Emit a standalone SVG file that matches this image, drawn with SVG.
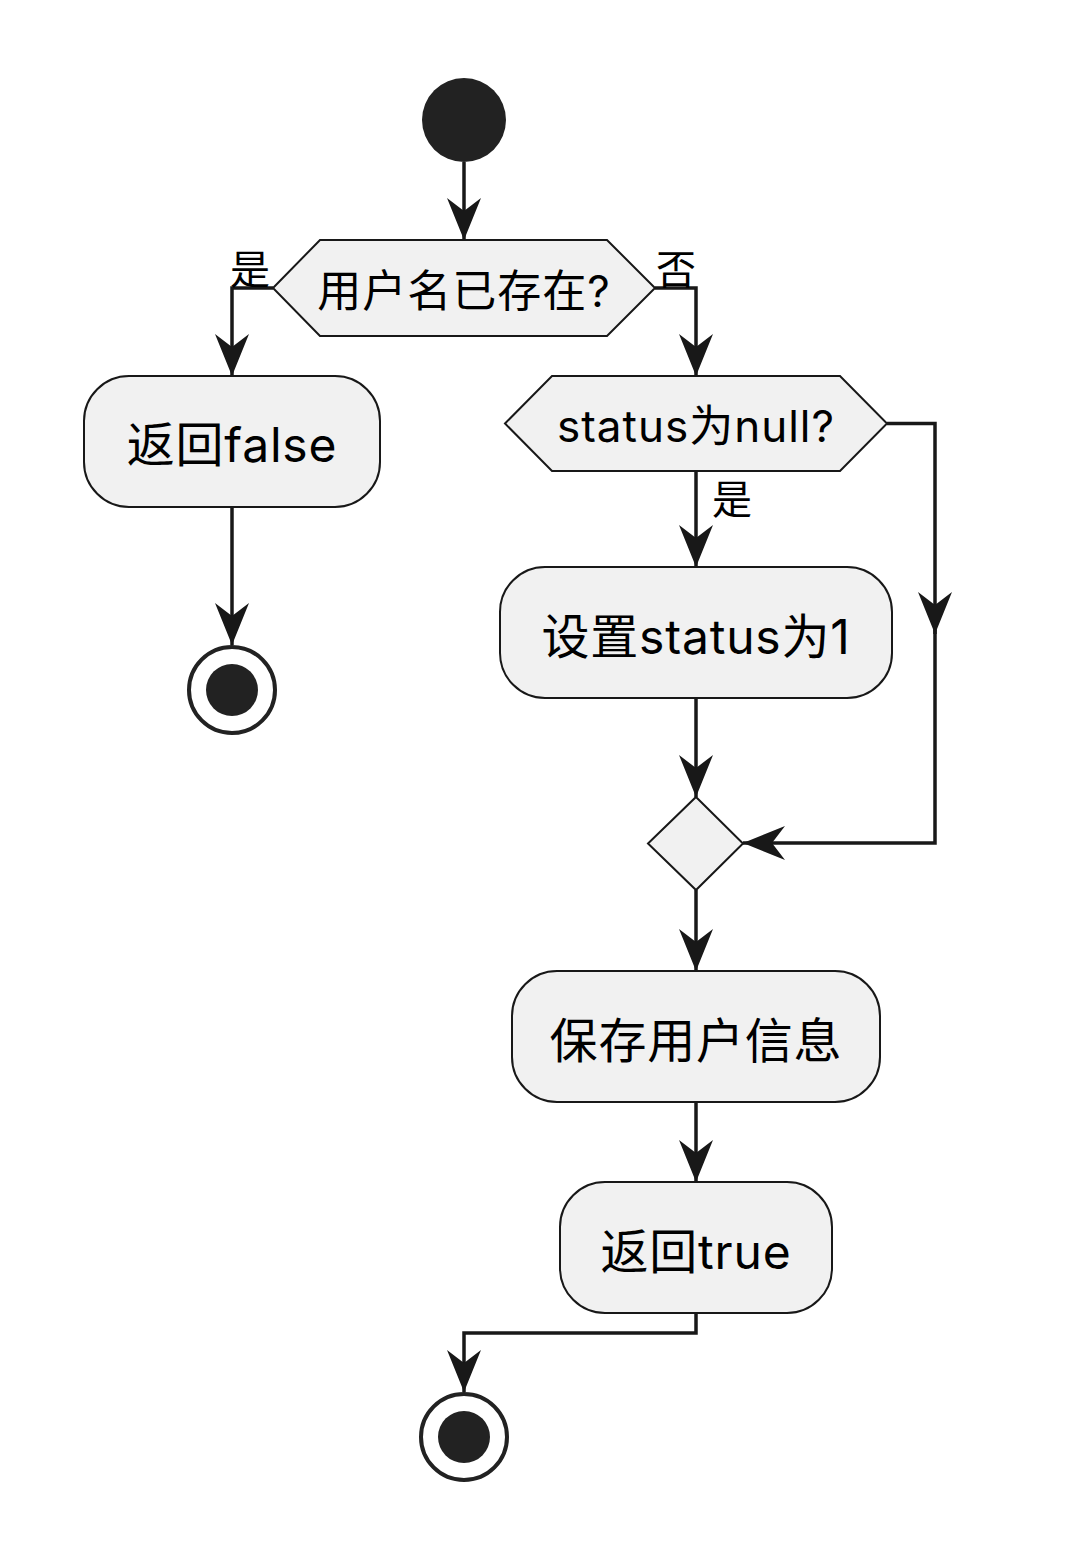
<svg xmlns="http://www.w3.org/2000/svg" width="1076" height="1564" viewBox="0 0 1076 1564">
<style>
.bg{fill:#ffffff}
.node{fill:#F1F1F1;stroke:#181818;stroke-width:2}
.start{fill:#222222;stroke:none}
.endo{fill:none;stroke:#222222;stroke-width:4}
.link{fill:none;stroke:#181818;stroke-width:3.5;marker-end:url(#arr)}
.t{font-family:Inter,"Noto Sans CJK SC",sans-serif;fill:#000000;text-anchor:middle}
.box{font-size:48px;letter-spacing:0.8px}
.dec{font-size:44px;letter-spacing:1px}
.lbl{font-family:Inter,"Noto Sans CJK SC",sans-serif;fill:#000000;font-size:40px}
</style>
<defs>
<marker id="arr" markerUnits="userSpaceOnUse" markerWidth="50" markerHeight="40" viewBox="-44 -20 46 40" refX="0" refY="0" orient="auto">
<path d="M0,0 L-42,-17 L-29,0 L-42,17 Z" fill="#181818"/>
</marker>
</defs>
<rect class="bg" x="0" y="0" width="1076" height="1564"/>
<g id="connectors">
<path class="link" d="M464,162 V240"/>
<path class="link" d="M273,288 H232 V376"/>
<path class="link" d="M655,288 H696 V376"/>
<path class="link" d="M232,507 V645"/>
<path class="link" d="M696,471 V567"/>
<path class="link" d="M887,423.5 H935 V634"/>
<path class="link" d="M935,630 V843 H743"/>
<path class="link" d="M696,698 V797"/>
<path class="link" d="M696,890 V971"/>
<path class="link" d="M696,1102 V1182"/>
<path class="link" d="M696,1313 V1333 H464 V1392"/>
</g>
<g id="start">
<circle class="start" cx="464" cy="120" r="42"/>
</g>
<g id="decision1">
<polygon class="node" points="273,288 320,240 607,240 655,288 607,336 320,336"/>
<text class="t dec" x="464" y="307">用户名已存在?</text>
</g>
<g id="label-yes1"><text class="lbl" x="230" y="284">是</text></g>
<g id="label-no1"><text class="lbl" x="656" y="284">否</text></g>
<g id="return-false">
<rect class="node" x="84" y="376" width="296" height="131" rx="45" ry="45"/>
<text class="t box" x="232" y="462">返回false</text>
</g>
<g id="end1">
<circle class="endo" cx="232" cy="690" r="43"/>
<circle class="start" cx="232" cy="690" r="26"/>
</g>
<g id="decision2">
<polygon class="node" points="505,423.5 552,376 840,376 887,423.5 840,471 552,471"/>
<text class="t dec" x="696" y="442">status为null?</text>
</g>
<g id="label-yes2"><text class="lbl" x="712" y="514">是</text></g>
<g id="set-status">
<rect class="node" x="500" y="567" width="392" height="131" rx="45" ry="45"/>
<text class="t box" x="696" y="654">设置status为1</text>
</g>
<g id="merge">
<polygon class="node" points="696,797 743,843.5 696,890 648,843.5"/>
</g>
<g id="save-user">
<rect class="node" x="512" y="971" width="368" height="131" rx="45" ry="45"/>
<text class="t box" x="696" y="1058">保存用户信息</text>
</g>
<g id="return-true">
<rect class="node" x="560" y="1182" width="272" height="131" rx="45" ry="45"/>
<text class="t box" x="696" y="1269">返回true</text>
</g>
<g id="end2">
<circle class="endo" cx="464" cy="1437" r="43"/>
<circle class="start" cx="464" cy="1437" r="26"/>
</g>
</svg>
